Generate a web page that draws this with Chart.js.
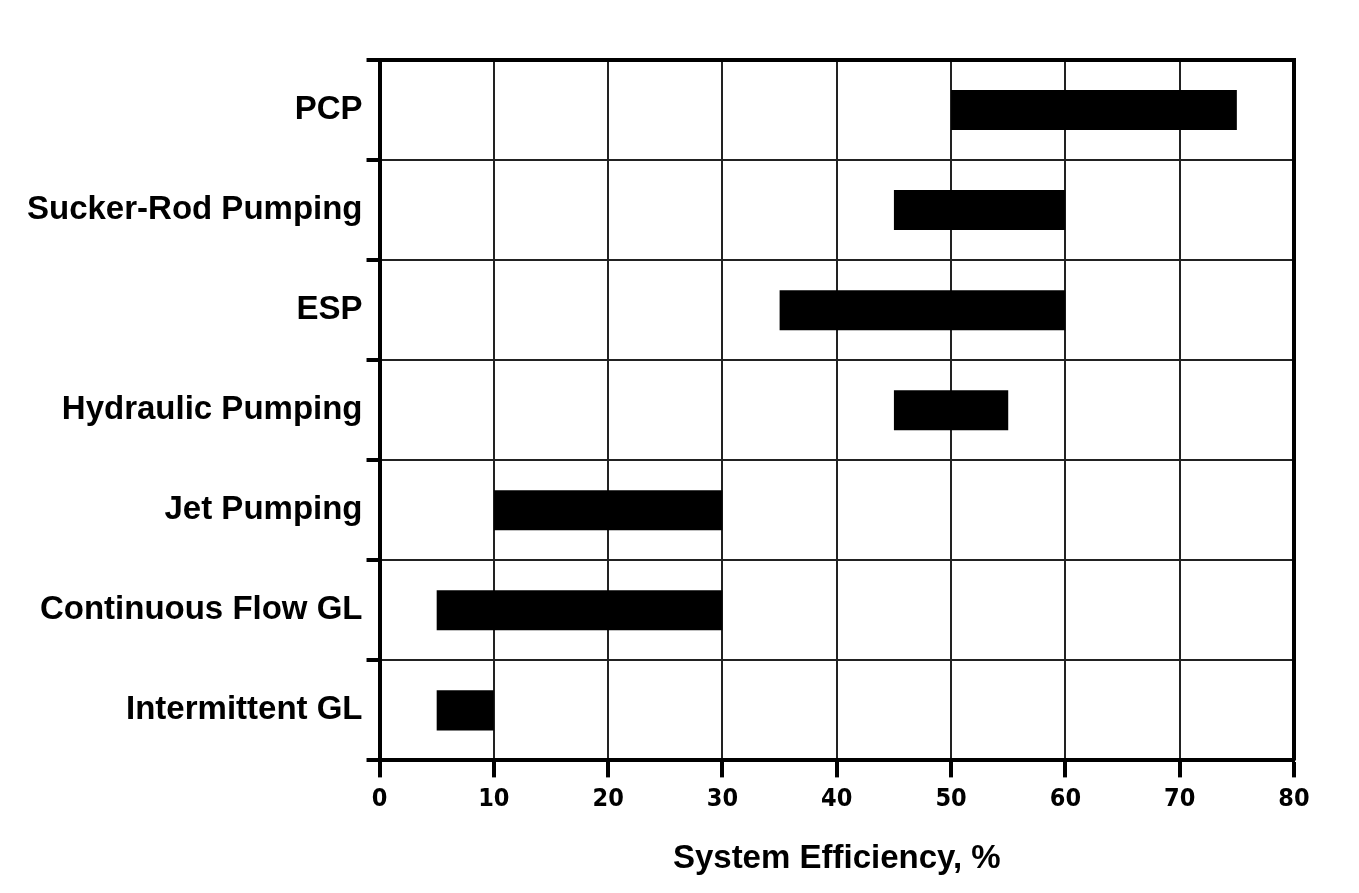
<!DOCTYPE html>
<html>
<head>
<meta charset="utf-8">
<script src="https://cdn.jsdelivr.net/npm/chart.js@4"></script>
<style>
  html, body { margin: 0; padding: 0; background: #fff; }
  #wrap { width: 1359px; height: 893px; }
</style>
</head>
<body>
<div id="wrap"><canvas id="myChart"></canvas></div>
<script>
const methods = [
  "PCP",
  "Sucker-Rod Pumping",
  "ESP",
  "Hydraulic Pumping",
  "Jet Pumping",
  "Continuous Flow GL",
  "Intermittent GL",
];
const lowEff = [50, 45, 35, 45, 10, 5, 5];
const highEff = [75, 60, 60, 55, 30, 30, 10];
const xTitle = "System Efficiency, %";

// top and right sides of the frame
const frame = {
  id: "frame",
  afterDraw(chart) {
    const { ctx, chartArea } = chart;
    ctx.save();
    ctx.strokeStyle = "#000";
    ctx.lineWidth = 4;
    ctx.beginPath();
    ctx.moveTo(chartArea.left, chartArea.top);
    ctx.lineTo(chartArea.right, chartArea.top);
    ctx.lineTo(chartArea.right, chartArea.bottom);
    ctx.stroke();
    ctx.restore();
  },
};

const ctx = document.getElementById("myChart").getContext("2d");
new Chart(ctx, {
  type: "bar",
  data: {
    labels: methods,
    datasets: [
      {
        data: methods.map((m, i) => [lowEff[i], highEff[i]]),
        backgroundColor: "#000",
        borderWidth: 0,
        categoryPercentage: 0.8,
        barPercentage: 0.5,
      },
    ],
  },
  options: {
    indexAxis: "y",
    responsive: true,
    maintainAspectRatio: false,
    animation: false,
    layout: { padding: { top: 60, right: 65, bottom: 14, left: 23 } },
    plugins: {
      legend: { display: false },
      tooltip: { enabled: false },
    },
    scales: {
      x: {
        min: 0,
        max: 80,
        ticks: {
          stepSize: 10,
          color: "#000",
          padding: 7,
          font: { family: "'DejaVu Sans Condensed'", weight: "bold", size: 25 },
        },
        grid: { color: "#222", lineWidth: 2, tickLength: 17, tickColor: "#000", tickWidth: 4 },
        border: { color: "#000", width: 4 },
        title: {
          display: true,
          text: xTitle,
          color: "#000",
          padding: { top: 18, bottom: 0 },
          font: { family: "Liberation Sans", weight: "bold", size: 33 },
        },
      },
      y: {
        ticks: {
          color: "#000",
          padding: 4,
          font: { family: "Liberation Sans", weight: "bold", size: 33 },
        },
        grid: { color: "#222", lineWidth: 2, tickLength: 13, tickColor: "#000", tickWidth: 4, offset: true },
        border: { color: "#000", width: 4 },
      },
    },
  },
  plugins: [frame],
});
</script>
</body>
</html>
